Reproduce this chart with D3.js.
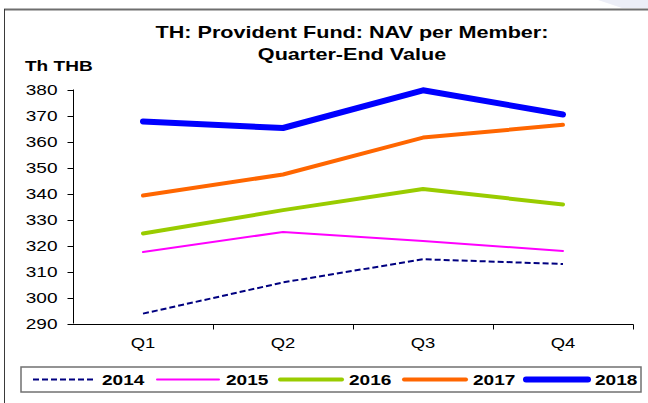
<!DOCTYPE html>
<html>
<head>
<meta charset="utf-8">
<script src="https://cdn.jsdelivr.net/npm/d3@7"></script>
<style>
  html, body { margin: 0; padding: 0; background: #fff; }
  svg { display: block; }
  text { font-family: "Liberation Sans", Arial, sans-serif; fill: #000; }
</style>
</head>
<body>
<svg id="chart" width="648" height="403"></svg>
<script>
// ---- data ----
const quarters = ["Q1", "Q2", "Q3", "Q4"];
const years = ["2014", "2015", "2016", "2017", "2018"];
const values2014 = [293.8, 305.8, 314.7, 312.9];
const values2015 = [317.5, 325.2, 321.7, 317.9];
const values2016 = [324.6, 333.6, 341.7, 335.8];
const values2017 = [339.2, 347.3, 361.5, 366.4];
const values2018 = [367.7, 365.2, 379.7, 370.4];
const yTicks = [290, 300, 310, 320, 330, 340, 350, 360, 370, 380];
const titleLines = ["TH: Provident Fund: NAV per Member:", "Quarter-End Value"];
const unitLabel = "Th THB";

const seriesValues = [values2014, values2015, values2016, values2017, values2018];
const styles = [
  { color: "#000080", width: 2, dash: "6,3", cap: "butt" },
  { color: "#FF00FF", width: 2, dash: null, cap: "round" },
  { color: "#99CC00", width: 4, dash: null, cap: "round" },
  { color: "#FF6600", width: 4, dash: null, cap: "round" },
  { color: "#0000FF", width: 6, dash: null, cap: "round" }
];
const series = years.map((y, i) => ({ year: y, values: seriesValues[i], style: styles[i] }));

const SX = 1.27; // horizontal text stretch seen in the reference
const svg = d3.select("#chart");

function label(g, x, y, str, anchor, size, weight) {
  return g.append("text")
    .attr("transform", `translate(${x},${y}) scale(${SX},1)`)
    .attr("text-anchor", anchor)
    .style("font-size", size + "px")
    .style("font-weight", weight || "normal")
    .text(str);
}

// background decorations / frame
svg.append("polygon")
  .attr("points", "598,0 648,0 648,8 622,8")
  .attr("fill", "#eceef7");
svg.append("line").attr("x1", 4).attr("x2", 648).attr("y1", 9.5).attr("y2", 9.5)
  .attr("stroke", "#6e6e6e").attr("stroke-width", 2);
svg.append("line").attr("x1", 4.5).attr("x2", 4.5).attr("y1", 9).attr("y2", 403)
  .attr("stroke", "#3a3a3a").attr("stroke-width", 1);

// scales
const x = d3.scaleBand().domain(quarters).range([73, 633]).padding(0);
const y = d3.scaleLinear().domain([290, 380]).range([323.5, 89.5]);
const xc = q => x(q) + x.bandwidth() / 2;

// title
label(svg, 352, 38, titleLines[0], "middle", 17, "bold");
label(svg, 352, 60, titleLines[1], "middle", 17, "bold");
label(svg, 25, 71, unitLabel, "start", 15, "bold");

// y axis
const yAxis = svg.append("g").attr("transform", "translate(73.5,0)");
yAxis.append("line").attr("x1", 0).attr("x2", 0).attr("y1", y(380)).attr("y2", y(290))
  .attr("stroke", "#000");
yTicks.forEach(t => {
  yAxis.append("line").attr("x1", -6).attr("x2", 0).attr("y1", Math.round(y(t)) + 0.5).attr("y2", Math.round(y(t)) + 0.5)
    .attr("stroke", "#000");
  label(yAxis, -16, y(t) + 5.3, String(t), "end", 15);
});

// x axis
const xAxis = svg.append("g");
const xy = Math.round(y(290)) + 0.5;
xAxis.append("line").attr("x1", 73).attr("x2", 633.5).attr("y1", xy).attr("y2", xy).attr("stroke", "#000");
quarters.forEach(q => {
  const bx = Math.round(x(q) + x.bandwidth()) + 0.5;
  xAxis.append("line").attr("x1", bx).attr("x2", bx).attr("y1", xy).attr("y2", xy + 5).attr("stroke", "#000");
  label(xAxis, xc(q), 348, q, "middle", 14.5);
});

// lines
const lineGen = d3.line().x((d, i) => xc(quarters[i])).y(d => y(d));
svg.append("g").selectAll("path").data(series).join("path")
  .attr("d", d => lineGen(d.values))
  .attr("fill", "none")
  .attr("stroke", d => d.style.color)
  .attr("stroke-width", d => d.style.width)
  .attr("stroke-dasharray", d => d.style.dash)
  .attr("stroke-linecap", d => d.style.cap)
  .attr("stroke-linejoin", "round");

// legend
const leg = svg.append("g");
leg.append("rect").attr("x", 21).attr("y", 367).attr("width", 620).attr("height", 25)
  .attr("fill", "#fff").attr("stroke", "#707070").attr("stroke-width", 1.5);
const legX = [33, 157, 280, 404, 526];
series.forEach((s, i) => {
  const lx = legX[i];
  leg.append("line").attr("x1", lx).attr("x2", lx + 62).attr("y1", 379.5).attr("y2", 379.5)
    .attr("stroke", s.style.color).attr("stroke-width", s.style.width)
    .attr("stroke-dasharray", s.style.dash).attr("stroke-linecap", s.style.cap);
  label(leg, lx + 69, 385, s.year, "start", 15, "bold");
});
</script>
</body>
</html>
